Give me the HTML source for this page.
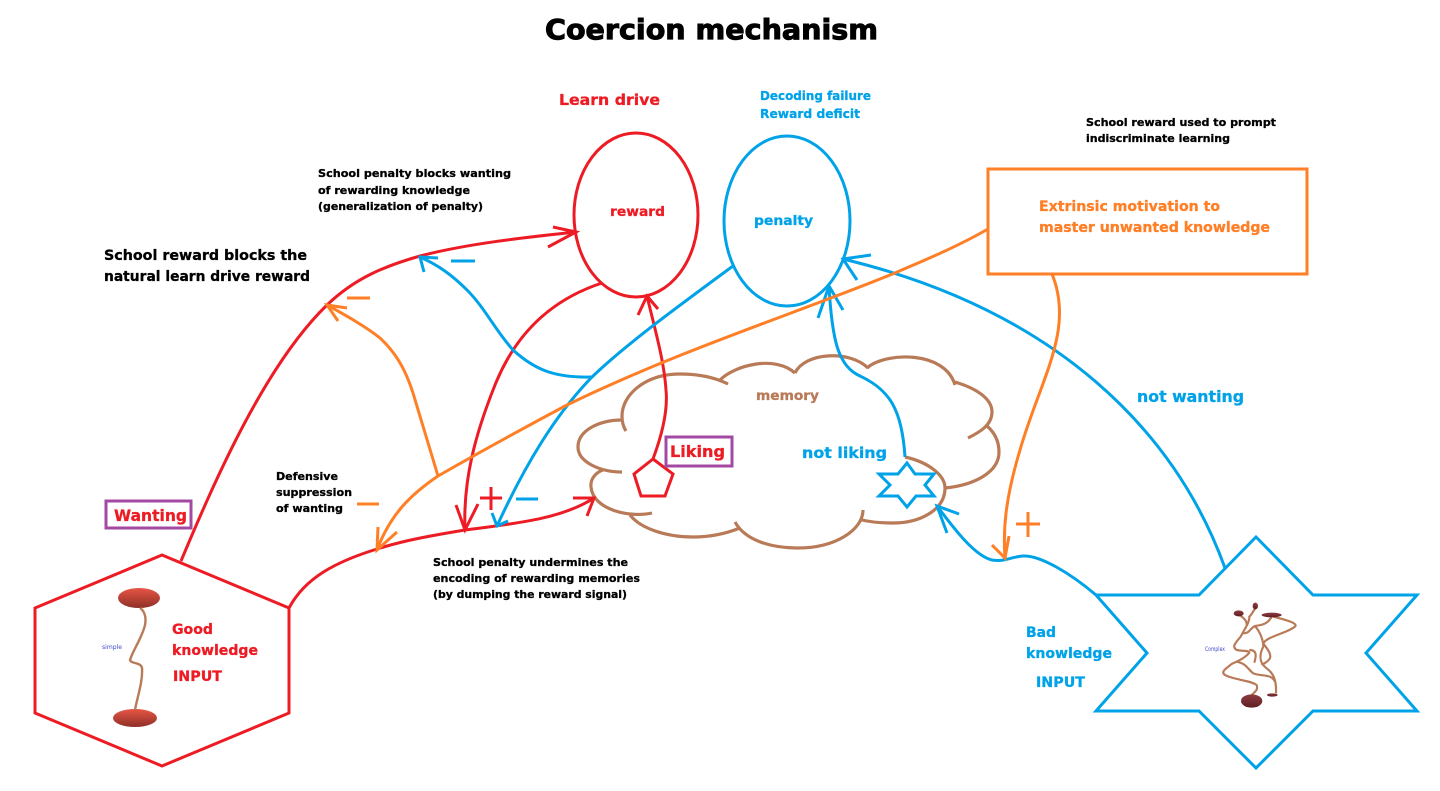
<!DOCTYPE html>
<html><head><meta charset="utf-8"><title>Coercion mechanism</title>
<style>
html,body{margin:0;padding:0;background:#fff}
svg{display:block}
text{font-family:"DejaVu Sans","Liberation Sans",sans-serif;font-weight:bold;fill:#000;stroke:#000;stroke-width:.3}
.r{fill:#ed1c24;stroke:#ed1c24}.b{fill:#00a2e8;stroke:#00a2e8}.o{fill:#ff7f27;stroke:#ff7f27}.n{fill:#b97a57;stroke:#b97a57}
.lr,.lb,.lo,.ln{fill:none;stroke-width:3;stroke-linejoin:miter}
.lr{stroke:#ed1c24}.lb{stroke:#00a2e8}.lo{stroke:#ff7f27}.ln{stroke:#b97a57;stroke-width:3.2}
</style></head><body>
<svg width="1440" height="791" viewBox="0 0 1440 791" xmlns="http://www.w3.org/2000/svg">
<defs>
<linearGradient id="g1" x1="0" y1="0" x2="0" y2="1"><stop offset="0" stop-color="#e85545"/><stop offset="1" stop-color="#8e3028"/></linearGradient>
<linearGradient id="g2" x1="0" y1="0" x2="0" y2="1"><stop offset="0" stop-color="#8f3d40"/><stop offset="1" stop-color="#5e1f22"/></linearGradient>
</defs>
<rect width="1440" height="791" fill="#fff"/>

<!-- title -->
<text x="545" y="39" font-size="28" textLength="333" lengthAdjust="spacingAndGlyphs" style="stroke-width:1">Coercion mechanism</text>

<!-- main shapes -->
<ellipse class="lr" cx="636" cy="215" rx="62" ry="82"/>
<ellipse class="lb" cx="787" cy="221" rx="63" ry="85"/>
<rect class="lo" x="988" y="169" width="319" height="105"/>
<polygon class="lr" points="162,555 289,608 289,713 162,766 35,713 35,608"/>
<polygon class="lb" points="1256,537 1313,595 1417,595 1366,653 1417,711 1313,711 1256,768 1199,711 1096,711 1147,653 1096,595 1199,595"/>

<!-- cloud -->
<path class="ln" d="M626,431 Q622,425 622,416 C622,395 645,374 680,374 C700,374 716,378 728,384"/>
<path class="ln" d="M720,380 C735,365 775,355 795,373"/>
<path class="ln" d="M795,373 C805,352 850,350 868,368"/>
<path class="ln" d="M867,368 C885,352 945,350 955,385"/>
<path class="ln" d="M955,382 C975,388 992,398 992,412 C992,425 980,432 968,438"/>
<path class="ln" d="M987,426 C995,433 999,442 999,452 C999,472 975,485 945,488"/>
<path class="ln" d="M905,457 C928,462 945,475 945,488 C945,510 920,523 893,523 C880,523 870,522 862,520"/>
<path class="ln" d="M863,510 C863,530 835,548 798,548 C770,548 745,540 735,522"/>
<path class="ln" d="M740,528 C725,534 710,537 693,537 C665,537 640,528 630,515"/>
<path class="ln" d="M652,513 C630,518 593,510 591,487 C590,478 597,472 603,470"/>
<path class="ln" d="M622,472 C600,472 578,462 578,447 C578,430 600,420 622,420"/>

<!-- connectors -->
<path class="lr" d="M181,561 C215,480 265,365 327,305 C355,278 385,266 420,256 C470,243 530,237 576,232"/>
<path class="lr" d="M553,227 L576,232 L548,247"/>
<path class="lr" d="M289,608 C305,578 335,562 377,549 C405,540 435,535 465,530 C510,524 560,520 594,498"/>
<path class="lr" d="M573,498 L594,498 L587,516"/>
<path class="lr" d="M602,283 C550,300 515,335 495,385 C475,435 463,480 465,530"/>
<path class="lr" d="M456,505 L465,530 L478,504"/>
<path class="lr" d="M653,459 C662,435 668,410 666,390 C664,360 655,330 647,296"/>
<path class="lr" d="M638,315 L647,296 L658,309"/>

<path class="lb" d="M592,377 C555,378 535,370 513,350 C495,330 485,308 467,290 C452,275 438,265 420,257"/>
<path class="lb" d="M438,258 L420,257 L424,272"/>
<path class="lb" d="M733,266 C680,305 625,345 592,377 C555,415 525,465 497,526"/>
<path class="lb" d="M492,513 L497,526 L508,521"/>
<path class="lb" d="M905,457 C902,410 890,390 860,376 C838,366 832,340 829,286"/>
<path class="lb" d="M818,318 L829,286 L843,310"/>
<path class="lb" d="M1225,568 C1175,430 1055,310 843,259"/>
<path class="lb" d="M871,255 L843,259 L857,280"/>
<path class="lb" d="M1096,595 C1070,573 1040,555 1023,556 C1010,557 1005,562 992,560 C975,556 955,530 937,506"/>
<path class="lb" d="M959,514 L937,506 L947,533"/>

<path class="lo" d="M438,476 L413,393 C405,368 395,352 380,338 C365,326 345,315 327,305"/>
<path class="lo" d="M347,308 L327,305 L338,321"/>
<path class="lo" d="M988,229 C955,248 920,262 895,273 C800,312 680,350 567,405 C520,430 480,452 438,476 C410,495 390,515 377,550"/>
<path class="lo" d="M378,527 L377,550 L397,532"/>
<path class="lo" d="M1052,274 C1075,330 1040,380 1020,450 C1005,500 1003,530 1005,558"/>
<path class="lo" d="M992,545 L1005,558 L1009,536"/>

<!-- plus / minus -->
<path class="lb" d="M451,261H475M516,499H538"/>
<path class="lo" d="M347,298H370M357,504H379M1016,524H1040M1028,512V537"/>
<path class="lr" d="M480,498H502M491,487V510"/>

<!-- pentagon and small star -->
<polygon class="lr" points="653,459 673,474 665,496 641,496 634,474" fill="#fff"/>
<polygon class="lb" points="907,463 915,474 934,474 925,485 934,496 916,496 907,507 898,496 879,496 890,485 879,474 898,474"/>

<!-- boxes -->
<rect x="106" y="501" width="85" height="27" fill="none" stroke="#a349a4" stroke-width="3"/>
<rect x="666" y="437" width="66" height="29" fill="none" stroke="#a349a4" stroke-width="3"/>

<!-- simple neuron -->
<ellipse cx="139" cy="598" rx="21" ry="10" fill="url(#g1)"/>
<ellipse cx="135" cy="718" rx="22" ry="9" fill="url(#g1)"/>
<path d="M140,608 C146,612 146,620 145,625 C142,638 133,650 130,660 C131,664 141,662 142,668 C143,682 137,698 135,710" fill="none" stroke="#b97a57" stroke-width="2.4"/>
<text x="102" y="649" font-size="6" style="fill:#3f48cc;stroke:none;font-weight:normal" textLength="20" lengthAdjust="spacingAndGlyphs">simple</text>

<!-- complex neuron -->
<g transform="translate(1000,500) scale(.3333)">
<g fill="none" stroke="#b97a57" stroke-width="6.5">
<path d="M766,325 C755,340 755,345 748,350 C750,365 735,385 722,410 C705,430 695,440 710,450 C730,455 745,450 748,458 C735,475 710,485 695,492 C680,505 660,515 675,525 C700,540 750,540 770,555 C775,570 765,575 755,585"/>
<path d="M716,345 C730,350 742,365 740,375"/>
<path d="M730,400 C750,400 750,385 765,378 C790,375 805,370 815,350"/>
<path d="M765,378 C780,395 790,420 790,440 C775,470 780,490 800,505 C820,520 830,540 828,580"/>
<path d="M820,350 C860,360 895,370 885,380 C860,400 800,410 790,430 C800,445 815,460 810,475 C800,490 790,490 785,495"/>
<path d="M710,485 C740,490 745,510 760,520 C780,530 815,520 825,545"/>
<path d="M748,450 C770,450 770,465 763,488"/>
</g>
<ellipse cx="716" cy="340" rx="15" ry="9" fill="url(#g2)"/>
<ellipse cx="766" cy="318" rx="8" ry="10" fill="url(#g2)"/>
<ellipse cx="815" cy="345" rx="30" ry="7" fill="url(#g2)"/>
<ellipse cx="755" cy="603" rx="32" ry="20" fill="url(#g2)"/>
<ellipse cx="817" cy="585" rx="16" ry="5" fill="url(#g2)"/>
</g>
<text x="1205" y="651" font-size="6" style="fill:#3f48cc;stroke:none;font-weight:normal" textLength="20" lengthAdjust="spacingAndGlyphs">Complex</text>

<!-- labels -->
<text class="r" x="559" y="105" font-size="15" textLength="101" lengthAdjust="spacingAndGlyphs">Learn drive</text>
<text class="b" x="760" y="100" font-size="12.5" textLength="111" lengthAdjust="spacingAndGlyphs">Decoding failure</text>
<text class="b" x="760" y="118" font-size="12.5" textLength="100" lengthAdjust="spacingAndGlyphs">Reward deficit</text>
<text x="1086" y="126" font-size="11" textLength="190" lengthAdjust="spacingAndGlyphs">School reward used to prompt</text>
<text x="1086" y="142" font-size="11" textLength="144" lengthAdjust="spacingAndGlyphs">indiscriminate learning</text>
<text x="318" y="177" font-size="11" textLength="193" lengthAdjust="spacingAndGlyphs">School penalty blocks wanting</text>
<text x="318" y="194" font-size="11" textLength="152" lengthAdjust="spacingAndGlyphs">of rewarding knowledge</text>
<text x="318" y="210" font-size="11" textLength="165" lengthAdjust="spacingAndGlyphs">(generalization of penalty)</text>
<text class="r" x="610" y="216" font-size="13" textLength="55" lengthAdjust="spacingAndGlyphs">reward</text>
<text class="b" x="754" y="225" font-size="13" textLength="59" lengthAdjust="spacingAndGlyphs">penalty</text>
<text class="o" x="1039" y="211" font-size="14" textLength="181" lengthAdjust="spacingAndGlyphs">Extrinsic motivation to</text>
<text class="o" x="1039" y="232" font-size="14" textLength="231" lengthAdjust="spacingAndGlyphs">master unwanted knowledge</text>
<text x="104" y="260" font-size="14" textLength="203" lengthAdjust="spacingAndGlyphs">School reward blocks the</text>
<text x="104" y="281" font-size="14" textLength="206" lengthAdjust="spacingAndGlyphs">natural learn drive reward</text>
<text class="b" x="1137" y="402" font-size="16" textLength="107" lengthAdjust="spacingAndGlyphs">not wanting</text>
<text class="n" x="756" y="400" font-size="13" textLength="63" lengthAdjust="spacingAndGlyphs">memory</text>
<text class="r" x="670" y="457" font-size="16" textLength="55" lengthAdjust="spacingAndGlyphs">Liking</text>
<text class="b" x="802" y="458" font-size="15" textLength="85" lengthAdjust="spacingAndGlyphs">not liking</text>
<text x="276" y="480" font-size="11" textLength="62" lengthAdjust="spacingAndGlyphs">Defensive</text>
<text x="276" y="496" font-size="11" textLength="76" lengthAdjust="spacingAndGlyphs">suppression</text>
<text x="276" y="512" font-size="11" textLength="67" lengthAdjust="spacingAndGlyphs">of wanting</text>
<text class="r" x="114" y="521" font-size="16" textLength="73" lengthAdjust="spacingAndGlyphs">Wanting</text>
<text x="433" y="566" font-size="11" textLength="195" lengthAdjust="spacingAndGlyphs">School penalty undermines the</text>
<text x="433" y="582" font-size="11" textLength="207" lengthAdjust="spacingAndGlyphs">encoding of rewarding memories</text>
<text x="433" y="598" font-size="11" textLength="194" lengthAdjust="spacingAndGlyphs">(by dumping the reward signal)</text>
<text class="r" x="172" y="634" font-size="14" textLength="41" lengthAdjust="spacingAndGlyphs">Good</text>
<text class="r" x="172" y="655" font-size="14" textLength="86" lengthAdjust="spacingAndGlyphs">knowledge</text>
<text class="r" x="173" y="681" font-size="14" textLength="49" lengthAdjust="spacingAndGlyphs">INPUT</text>
<text class="b" x="1026" y="637" font-size="14" textLength="30" lengthAdjust="spacingAndGlyphs">Bad</text>
<text class="b" x="1026" y="658" font-size="14" textLength="86" lengthAdjust="spacingAndGlyphs">knowledge</text>
<text class="b" x="1036" y="687" font-size="14" textLength="49" lengthAdjust="spacingAndGlyphs">INPUT</text>
</svg>
</body></html>
